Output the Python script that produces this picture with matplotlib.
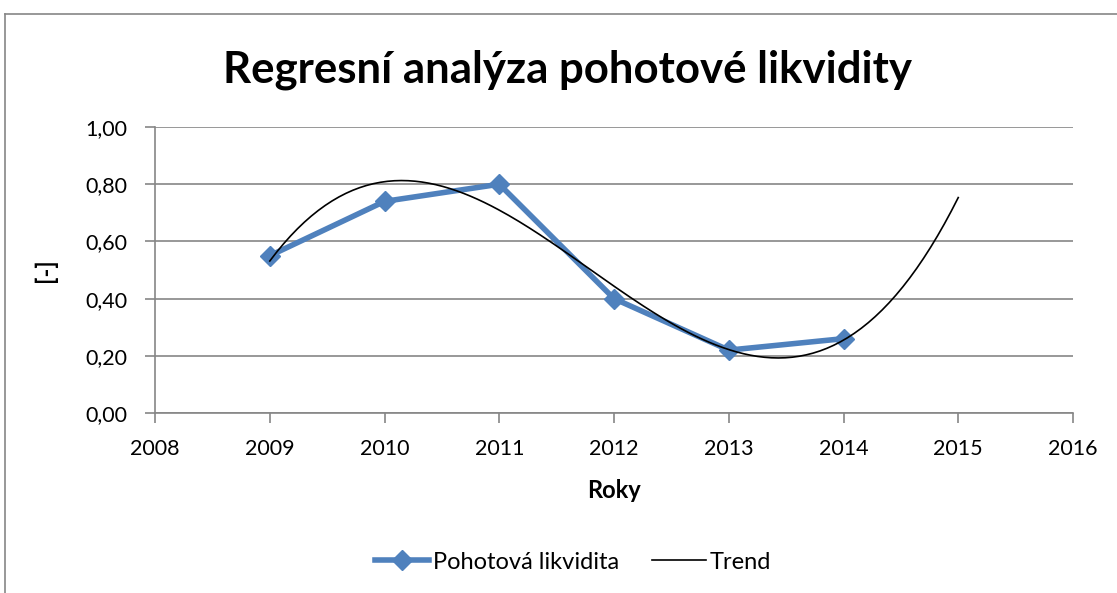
import numpy as np
import matplotlib.pyplot as plt
from matplotlib.ticker import FuncFormatter

# data
roky = [2009, 2010, 2011, 2012, 2013, 2014]
likvidita = [0.55, 0.74, 0.80, 0.40, 0.22, 0.26]

# polynomial trend (3rd order) like the Excel trendline, forecast 1 year ahead
koef = np.polyfit(roky, likvidita, 3)
xt = np.linspace(2009, 2015, 200)
yt = np.polyval(koef, xt)

plt.rcParams['font.family'] = ['Lato', 'DejaVu Sans']
seda = '#868686'
modra = '#4F81BD'

fig = plt.figure(figsize=(11.17, 5.93), dpi=100)
ax = fig.add_axes([0.1388, 0.3035, 0.8218, 0.4823])

ax.plot(roky, likvidita, color=modra, lw=4, marker='D', ms=10,
        label='Pohotová likvidita', zorder=3)
ax.plot(xt, yt, color='black', lw=1.2, label='Trend', zorder=4)

ax.set_xlim(2008, 2016)
ax.set_ylim(0, 1)
ax.set_xticks(range(2008, 2017))
ax.set_yticks(np.arange(0, 1.01, 0.2))
ax.yaxis.set_major_formatter(FuncFormatter(lambda v, p: f'{v:.2f}'.replace('.', ',')))
ax.grid(axis='y', color=seda, lw=1.2)
ax.set_axisbelow(True)
for s in ['top', 'right']:
    ax.spines[s].set_visible(False)
for s in ['left', 'bottom']:
    ax.spines[s].set_color(seda)
    ax.spines[s].set_linewidth(1.2)
ax.tick_params(colors=seda, labelcolor='black', labelsize=15.5, length=7, width=1.2)
ax.tick_params(axis='x', pad=12)
ax.tick_params(axis='y', pad=13)

ax.set_xlabel('Roky', fontsize=17, fontweight='bold', labelpad=14)
ax.set_ylabel('[-]', fontsize=17, fontweight='bold', labelpad=20)

fig.text(0.508, 0.883, 'Regresní analýza pohotové likvidity', fontsize=31.5,
         fontweight='bold', ha='center', va='center')

fig.legend(loc='center', bbox_to_anchor=(0.513, 0.052), ncol=2, frameon=False,
           fontsize=17, handlelength=2.3, columnspacing=1.4, handletextpad=0.15)

# chart frame (cropped on the right and bottom)
fig.add_artist(plt.Line2D([5/1117, 5/1117], [0, 1 - 14/593], color=seda, lw=1.2))
fig.add_artist(plt.Line2D([5/1117, 1], [1 - 14/593, 1 - 14/593], color=seda, lw=1.2))

fig.savefig('out.png', dpi=100)
